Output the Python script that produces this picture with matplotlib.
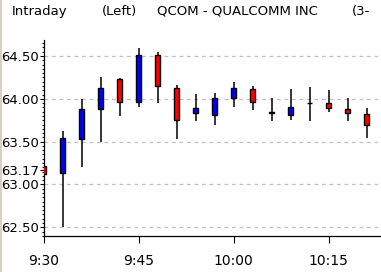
import matplotlib
matplotlib.use("Agg")
import matplotlib.pyplot as plt
from matplotlib.ticker import MultipleLocator, FixedLocator
from matplotlib.lines import Line2D

plt.rcParams['font.family'] = ['DejaVu Sans']

# 3-minute bars, minutes after 9:30
t = [0, 3, 6, 9, 12, 15, 18, 21, 24, 27, 30, 33, 36, 39, 42, 45, 48, 51]
opens = [63.22, 63.13, 63.535, 63.885, 64.23, 63.96, 64.51, 64.13, 63.83,
         63.815, 64.005, 64.12, 63.845, 63.815, 63.95, 63.95, 63.88, 63.82]
closes = [63.12, 63.54, 63.88, 64.13, 63.96, 64.51, 64.15, 63.75, 63.89,
          64.005, 64.13, 63.96, 63.835, 63.91, 63.95, 63.89, 63.83, 63.70]
highs = [63.27, 63.62, 64.00, 64.255, 64.24, 64.59, 64.55, 64.16, 64.06,
         64.07, 64.195, 64.15, 64.01, 64.12, 64.14, 64.10, 64.01, 63.89]
lows = [62.97, 62.50, 63.20, 63.50, 63.80, 63.90, 63.955, 63.535, 63.745,
        63.70, 63.90, 63.87, 63.745, 63.755, 63.745, 63.85, 63.745, 63.545]

xtick_pos = [0, 15, 30, 45]
xtick_labels = ["9:30", "9:45", "10:00", "10:15"]
grid_levels = [62.5, 63.0, 63.5, 64.0, 64.5]
ref_price = 63.17

W, H = 381, 272
fig = plt.figure(figsize=(W / 100, H / 100), dpi=100)
ax = fig.add_axes([43.7 / W, 36 / H, (W - 43.7) / W, 196 / H])

for y in grid_levels:
    ax.axhline(y, color='#c0c0c0', lw=0.9, ls=(0, (3, 3)), zorder=0)

ax.vlines(t, lows, highs, color='black', lw=1.1, zorder=2)
cols = ['#0000ff' if c > o else '#ff0000' for o, c in zip(opens, closes)]
bottoms = [min(o, c) for o, c in zip(opens, closes)]
heights = [abs(c - o) for o, c in zip(opens, closes)]
ax.bar(t, heights, bottom=bottoms, width=0.72, color=cols,
       edgecolor='black', lw=1, zorder=3)

ax.set_xlim(0, 53.26)
ax.set_ylim(62.398, 64.687)

ax.set_xticks(xtick_pos)
ax.set_xticklabels(xtick_labels)
yt = sorted(grid_levels + [ref_price])
ax.yaxis.set_major_locator(FixedLocator(yt))
ax.set_yticklabels(["%.2f" % v for v in yt])
ax.yaxis.set_minor_locator(MultipleLocator(0.05))

ax.tick_params(axis='y', which='major', length=3, width=0.8, pad=0.5, labelsize=9.5)
ax.tick_params(axis='y', which='minor', length=1.6, width=0.8)
ax.tick_params(axis='x', which='major', length=5.2, width=0.8, pad=7.5, labelsize=10)

for s in ['top', 'right']:
    ax.spines[s].set_visible(False)
for s in ['left', 'bottom']:
    ax.spines[s].set_linewidth(0.9)
    ax.spines[s].set_color('black')

ty = 1 - 11 / H
for x, s in [(12, "Intraday"), (102, "(Left)"), (157, "QCOM - QUALCOMM INC"),
             (352, "(3-")]:
    fig.text(x / W, ty, s, ha='left', va='center', fontsize=9.5)

fig.add_artist(Line2D([0.5 / W, 0.5 / W], [0, 1], color='#d4d0c8', lw=1.5,
                      transform=fig.transFigure))

fig.savefig("out.png", dpi=100)
